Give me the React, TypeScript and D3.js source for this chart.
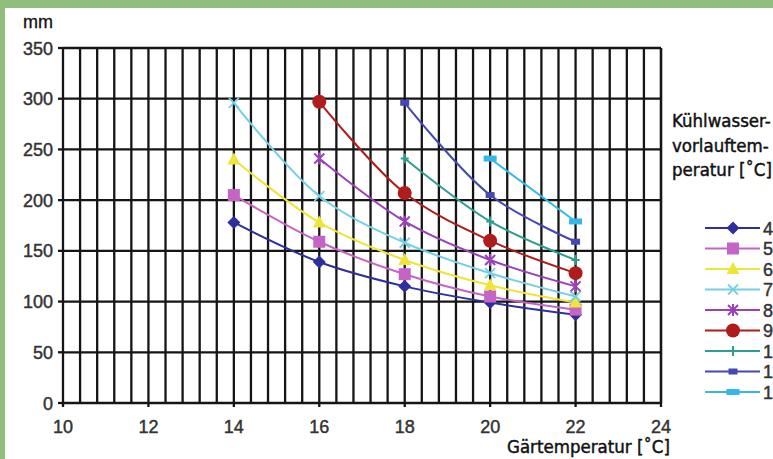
import React from "react";
import * as d3 from "d3";

const W = 773;
const H = 459;

const xTicks = [10, 12, 14, 16, 18, 20, 22, 24];
const yTicks = [0, 50, 100, 150, 200, 250, 300, 350];
const seriesNames = ["4", "5", "6", "7", "8", "9", "10", "11", "12"];
const seriesColors = ["#2e2e9c", "#c464c4", "#eee43a", "#74d0e2", "#9a40b8", "#b01c1c", "#2e9e90", "#4646b4", "#34b8ea"];
const seriesMarkers = ["diamond", "square", "triangle", "x", "star", "circle", "plus", "rectS", "rectW"];

const s4 = [[14, 178], [16, 139], [18, 115], [20, 99], [22, 87]];
const s5 = [[14, 205], [16, 159], [18, 127], [20, 105], [22, 92]];
const s6 = [[14, 240], [16, 178], [18, 141], [20, 116], [22, 99]];
const s7 = [[14, 296], [16, 204], [18, 158], [20, 128], [22, 105]];
const s8 = [[16, 241], [18, 179], [20, 141], [22, 115]];
const s9 = [[16, 297], [18, 207], [20, 160], [22, 128]];
const s10 = [[18, 241], [20, 179], [22, 141]];
const s11 = [[18, 296], [20, 205], [22, 159]];
const s12 = [[20, 241], [22, 179]];
const seriesData = [s4, s5, s6, s7, s8, s9, s10, s11, s12];

const yLabel = "mm";
const xLabel = "Gärtemperatur [˚C]";
const legendTitle = ["Kühlwasser-", "vorlauftem-", "peratur [˚C]"];

const x = d3.scaleLinear().domain([10, 24]).range([63, 661]);
const y = d3.scaleLinear().domain([0, 350]).range([403, 48]);
const vGrid = d3.range(0, 36).map((i) => 10 + i * 0.4).concat([24]);

function Marker({ type, cx, cy, color }: { type: string; cx: number; cy: number; color: string }) {
  switch (type) {
    case "diamond":
      return <path d={`M${cx},${cy - 6.5}L${cx + 6.5},${cy}L${cx},${cy + 6.5}L${cx - 6.5},${cy}Z`} fill={color} />;
    case "square":
      return <rect x={cx - 6} y={cy - 6} width={12} height={12} fill={color} />;
    case "triangle":
      return <path d={`M${cx},${cy - 7}L${cx + 6.5},${cy + 5}L${cx - 6.5},${cy + 5}Z`} fill={color} />;
    case "x":
      return (
        <path d={`M${cx - 5},${cy - 5}L${cx + 5},${cy + 5}M${cx - 5},${cy + 5}L${cx + 5},${cy - 5}`} stroke={color} strokeWidth={1.8} />
      );
    case "star":
      return (
        <path
          d={`M${cx - 5},${cy - 5}L${cx + 5},${cy + 5}M${cx - 5},${cy + 5}L${cx + 5},${cy - 5}M${cx},${cy - 6}L${cx},${cy + 6}`}
          stroke={color}
          strokeWidth={2}
        />
      );
    case "circle":
      return <circle cx={cx} cy={cy} r={7} fill={color} />;
    case "plus":
      return <path d={`M${cx},${cy - 5}L${cx},${cy + 5}M${cx - 4},${cy}L${cx + 4},${cy}`} stroke={color} strokeWidth={2} />;
    case "rectS":
      return <rect x={cx - 4.5} y={cy - 3} width={9} height={6} fill={color} />;
    case "rectW":
      return <rect x={cx - 6.5} y={cy - 3} width={13} height={6} fill={color} />;
  }
  return null;
}

export default function App() {
  const line = d3
    .line<number[]>()
    .x((d) => x(d[0]))
    .y((d) => y(d[1]))
    .curve(d3.curveCatmullRom.alpha(0.5));

  const legendY = (i: number) => 228 + i * 20.5;

  return (
    <svg
      width={W}
      height={H}
      style={{ position: "absolute", left: 0, top: 0, display: "block" }}
      fontFamily="'Liberation Sans', Arial, sans-serif"
    >
      <rect x={0} y={0} width={W} height={H} fill="#ffffff" />
      <rect x={0} y={0} width={W} height={8} fill="#92be7d" />
      <rect x={0} y={0} width={5} height={H} fill="#92be7d" />

      {/* grid */}
      <g stroke="#151515" strokeWidth={2.3}>
        {vGrid.map((v, i) => (
          <line key={"v" + i} x1={x(v)} x2={x(v)} y1={y(350)} y2={y(0)} />
        ))}
        {yTicks.map((t) => (
          <line key={"h" + t} x1={x(10)} x2={x(24)} y1={y(t)} y2={y(t)} />
        ))}
        {yTicks.map((t) => (
          <line key={"yt" + t} x1={x(10) - 5} x2={x(10)} y1={y(t)} y2={y(t)} />
        ))}
        {xTicks.map((t) => (
          <line key={"xt" + t} x1={x(t)} x2={x(t)} y1={y(0)} y2={y(0) + 4} />
        ))}
      </g>

      {/* tick labels */}
      <g fill="#333" stroke="#333" strokeWidth={0.45} fontSize={18}>
        {yTicks.map((t) => (
          <text key={"yl" + t} x={53} y={y(t) + 6.5} textAnchor="end">
            {t}
          </text>
        ))}
        {xTicks.map((t) => (
          <text key={"xl" + t} x={x(t)} y={433} textAnchor="middle">
            {t}
          </text>
        ))}
      </g>
      <text x={23} y={28} fontSize={18} fill="#111" stroke="#111" strokeWidth={0.3}>
        {yLabel}
      </text>

      {/* axis titles */}
      <g
        fontFamily="'DejaVu Sans Condensed', 'DejaVu Sans', sans-serif"
        fontSize={18.5}
        fill="#111"
        stroke="#111"
        strokeWidth={0.45}
      >
        <text x={507} y={453}>{xLabel}</text>
        {legendTitle.map((t, i) => (
          <text key={t} x={672} y={127 + i * 24.5}>
            {t}
          </text>
        ))}
      </g>

      {/* series */}
      {seriesData.map((data, i) => (
        <g key={"s" + i}>
          <path d={line(data) || ""} fill="none" stroke={seriesColors[i]} strokeWidth={2} />
          {data.map((d, j) => (
            <Marker key={j} type={seriesMarkers[i]} cx={x(d[0])} cy={y(d[1])} color={seriesColors[i]} />
          ))}
        </g>
      ))}

      {/* legend */}
      {seriesNames.map((n, i) => (
        <g key={"lg" + n}>
          <line x1={705} x2={760} y1={legendY(i)} y2={legendY(i)} stroke={seriesColors[i]} strokeWidth={2} />
          <Marker type={seriesMarkers[i]} cx={733} cy={legendY(i)} color={seriesColors[i]} />
          <text x={763} y={legendY(i) + 6.5} fontSize={18} fill="#333" stroke="#333" strokeWidth={0.45}>
            {n}
          </text>
        </g>
      ))}
    </svg>
  );
}
